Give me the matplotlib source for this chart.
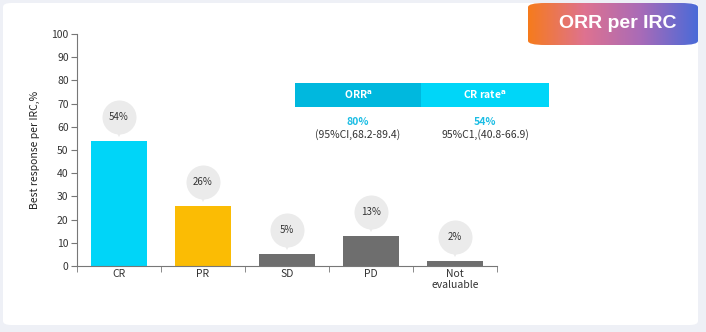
import numpy as np
import matplotlib.pyplot as plt
from matplotlib.patches import FancyBboxPatch, Rectangle
from matplotlib.colors import LinearSegmentedColormap
from matplotlib.transforms import ScaledTranslation

plt.rcParams['font.family'] = ['Noto Sans CJK SC', 'DejaVu Sans']

# data
categories = ["CR", "PR", "SD", "PD", "Not\nevaluable"]
values = [54, 26, 5, 13, 2]
value_labels = ["54%", "26%", "5%", "13%", "2%"]
bar_colors = ["#00d5f8", "#fbbc04", "#6e6e6e", "#6e6e6e", "#6e6e6e"]

summary_heads = ["ORR$^{\\mathbf{a}}$", "CR rate$^{\\mathbf{a}}$"]
summary_rates = ["80%", "54%"]
summary_ci = ["(95%CI,68.2-89.4)", "95%C1,(40.8-66.9)"]

W, H = 706, 332
fig = plt.figure(figsize=(W / 100, H / 100), dpi=100)
fig.patch.set_facecolor("#eef0f6")


#   helper: pixel box (top-left origin) -> figure fraction
def px(x0, y0, x1, y1):
    return x0 / W, 1 - y1 / H, (x1 - x0) / W, (y1 - y0) / H


# white card
cx, cy, cw, ch = px(3, 3, 698, 325)
card = FancyBboxPatch((cx, cy), cw, ch, boxstyle="round,pad=0,rounding_size=0.012",
                      transform=fig.transFigure, facecolor="white", edgecolor="none", zorder=0)
fig.add_artist(card)

# main axes
ax = fig.add_axes([77 / W, 1 - 266 / H, (497 - 77) / W, (266 - 34) / H])
ax.set_facecolor("none")
xs = np.arange(len(categories))
ax.bar(xs, values, width=0.67, color=bar_colors, zorder=2)
ax.set_xlim(-0.5, 4.5)
ax.set_ylim(0, 100)
ax.set_yticks(range(0, 101, 10))
ax.set_xticks(xs)
ax.set_xticklabels(categories, fontsize=7.5, color="#333333", linespacing=1.15)
ax.set_xticks(np.arange(-0.5, 4.6, 1), minor=True)
ax.tick_params(axis="x", which="major", length=0, pad=2)
ax.tick_params(axis="x", which="minor", length=4, color="#777777")
ax.tick_params(axis="y", length=4, color="#777777", labelsize=7.5, labelcolor="#333333", pad=2)
for s in ["top", "right"]:
    ax.spines[s].set_visible(False)
for s in ["left", "bottom"]:
    ax.spines[s].set_color("#777777")
    ax.spines[s].set_linewidth(0.8)
ax.set_ylabel("Best response per IRC,%", fontsize=7.5, color="#222222", labelpad=8)

# value bubbles above bars
up = ScaledTranslation(0, 24 / 100, fig.dpi_scale_trans)
tip = ScaledTranslation(0, 8 / 100, fig.dpi_scale_trans)
for i, (v, lab) in enumerate(zip(values, value_labels)):
    ax.plot([i], [v], marker="o", markersize=24.5, color="#ebebeb", markeredgewidth=0,
            transform=ax.transData + up, zorder=3, clip_on=False)
    ax.plot([i], [v], marker="v", markersize=6, color="#ebebeb", markeredgewidth=0,
            transform=ax.transData + tip, zorder=3, clip_on=False)
    ax.text(i, v, lab, ha="center", va="center", fontsize=7, color="#333333",
            transform=ax.transData + up, zorder=4)

# summary table
head_boxes = [(295, 83, 421, 107), (421, 83, 549, 107)]
head_colors = ["#00b8de", "#00d6f8"]
for (x0, y0, x1, y1), col, head, rate, ci in zip(head_boxes, head_colors, summary_heads,
                                                  summary_rates, summary_ci):
    bx, by, bw, bh = px(x0, y0, x1, y1)
    fig.add_artist(Rectangle((bx, by), bw, bh, transform=fig.transFigure,
                             facecolor=col, edgecolor="none", zorder=2))
    mx = (x0 + x1) / 2 / W
    fig.text(mx, by + bh / 2, head, ha="center", va="center", fontsize=7.5,
             color="white", fontweight="bold", zorder=3)
    fig.text(mx, 1 - 122 / H, rate, ha="center", va="center", fontsize=7.5,
             color="#1cbde4", fontweight="bold")
    fig.text(mx, 1 - 135 / H, ci, ha="center", va="center", fontsize=7.5, color="#333333")

# gradient title badge
gx, gy, gw, gh = px(528, 3, 698, 45)
bax = fig.add_axes([gx, gy, gw, gh])
bax.set_axis_off()
grad = LinearSegmentedColormap.from_list(
    "badge", ["#f67b1c", "#de7290", "#a86bb8", "#4a6ad8"])
img = bax.imshow(np.linspace(0, 1, 256)[None, :], aspect="auto", cmap=grad,
                 extent=(0, 1, 0, 1))
clip = FancyBboxPatch((0, 0), 1, 1, boxstyle="round,pad=0,rounding_size=0.1",
                      transform=bax.transAxes, facecolor="none", edgecolor="none")
bax.add_patch(clip)
img.set_clip_path(clip)
bax.set_xlim(0, 1)
bax.set_ylim(0, 1)
bax.text(0.53, 0.5, "ORR per IRC", ha="center", va="center", fontsize=14,
         fontweight="bold", color="white", family="Liberation Sans", transform=bax.transAxes)

fig.savefig("out.png", dpi=100, facecolor=fig.get_facecolor())
